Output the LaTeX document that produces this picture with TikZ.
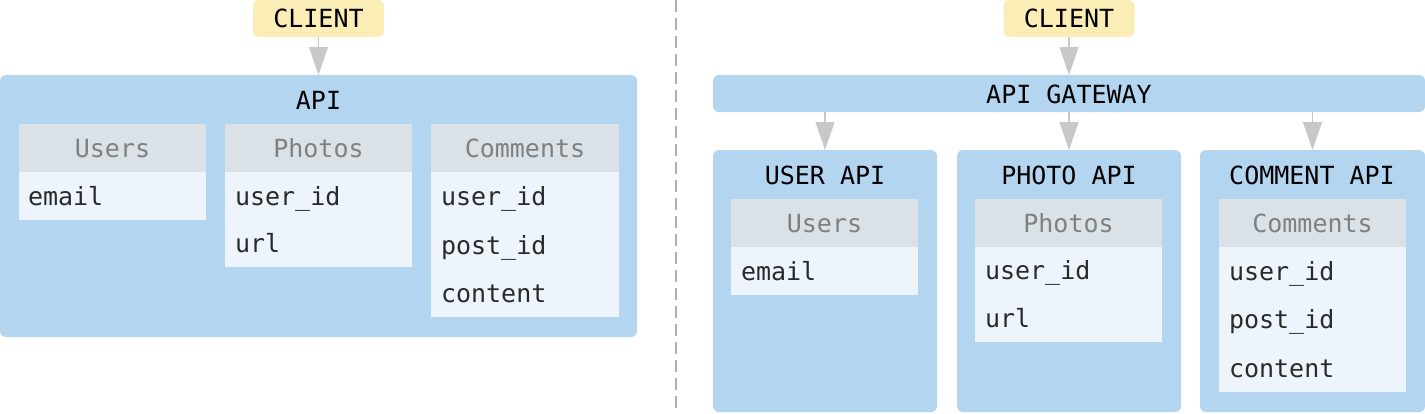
\documentclass[tikz,border=0pt]{standalone}
\usepackage{fontspec}
\setmonofont{DejaVu Sans Mono}
\usetikzlibrary{arrows.meta}

\definecolor{clientfill}{HTML}{FAEDB6}
\definecolor{apifill}{HTML}{B3D5EF}
\definecolor{headfill}{HTML}{DAE1E7}
\definecolor{rowfill}{HTML}{EDF4FB}
\definecolor{flowgrey}{HTML}{C8C8C8}
\definecolor{dividergrey}{HTML}{B0B0B0}
\definecolor{headtext}{HTML}{808080}
\definecolor{rowtext}{HTML}{2A2A2A}

\tikzset{
    every node/.style={font=\ttfamily\fontsize{25}{28}\selectfont, inner sep=0pt, outer sep=0pt, text height=18pt, text depth=0pt},
    clientbox/.style={fill=clientfill, rounded corners=6pt, minimum width=131pt, minimum height=37pt},
    apibox/.style={fill=apifill, rounded corners=6pt, anchor=north west, minimum height=262pt},
    title/.style={},
    headbox/.style={fill=headfill, anchor=north west, minimum width=187pt, minimum height=48pt, text=headtext},
    rowbox/.style={fill=rowfill, anchor=north west, minimum width=187pt},
    field/.style={anchor=west, text=rowtext},
    flow/.style={draw=flowgrey, line width=1.3pt, -{Triangle[width=19pt, length=28pt, fill=flowgrey]}}
}

\begin{document}
\begin{tikzpicture}[x=1pt, y=-1pt]
    \useasboundingbox (0,0) rectangle (1425,413);

    % monolith
    \node[clientbox] (clientL) at (318.5,18.5) {CLIENT};
    \node[apibox, minimum width=637pt] (apiL) at (0,75) {};
    \node[title] (apiLtitle) at (318.5,100) {API};
    \draw[flow] (clientL.south) -- (clientL.south |- apiL.north);

    \node[headbox] (usersL) at (19,124) {Users};
    \node[rowbox, minimum height=48pt] (usersLrows) at (19,172) {};
    \node[field] (usersLemail) at (28,196) {email};

    \node[headbox] (photosL) at (225,124) {Photos};
    \node[rowbox, minimum height=95pt] (photosLrows) at (225,172) {};
    \node[field] (photosLuser) at (235,196) {user\_id};
    \node[field] (photosLurl) at (235,243) {url};

    \node[headbox, minimum width=188pt] (commentsL) at (431,124) {Comments};
    \node[rowbox, minimum width=188pt, minimum height=145pt] (commentsLrows) at (431,172) {};
    \node[field] (commentsLuser) at (441,196) {user\_id};
    \node[field] (commentsLpost) at (441,245) {post\_id};
    \node[field] (commentsLcontent) at (441,293) {content};

    % divider
    \draw[dividergrey, line width=1.3pt, dash pattern=on 12pt off 6pt] (676,0) -- (676,413);

    % services
    \node[clientbox] (clientR) at (1069,18.5) {CLIENT};
    \node[fill=apifill, rounded corners=6pt, anchor=north west, minimum width=712pt, minimum height=37pt] (gateway) at (713,75) {};
    \node[title] (gatewaytitle) at (1069,94) {API GATEWAY};
    \draw[flow] (clientR.south) -- (clientR.south |- gateway.north);

    \node[apibox, minimum width=224pt] (userapi) at (713,150) {};
    \node[title] (userapititle) at (825,175) {USER API};
    \node[apibox, minimum width=224pt] (photoapi) at (957,150) {};
    \node[title] (photoapititle) at (1069,175) {PHOTO API};
    \node[apibox, minimum width=225pt] (commentapi) at (1200,150) {};
    \node[title] (commentapititle) at (1312,175) {COMMENT API};

    \draw[flow] (gateway.south -| userapi.north) -- (userapi.north);
    \draw[flow] (gateway.south -| photoapi.north) -- (photoapi.north);
    \draw[flow] (gateway.south -| commentapi.north) -- (commentapi.north);

    \node[headbox] (usersR) at (731,199) {Users};
    \node[rowbox, minimum height=48pt] (usersRrows) at (731,247) {};
    \node[field] (usersRemail) at (741,271) {email};

    \node[headbox] (photosR) at (975,199) {Photos};
    \node[rowbox, minimum height=95pt] (photosRrows) at (975,247) {};
    \node[field] (photosRuser) at (985,270) {user\_id};
    \node[field] (photosRurl) at (985,318) {url};

    \node[headbox] (commentsR) at (1219,199) {Comments};
    \node[rowbox, minimum height=145pt] (commentsRrows) at (1219,247) {};
    \node[field] (commentsRuser) at (1229,271) {user\_id};
    \node[field] (commentsRpost) at (1229,319) {post\_id};
    \node[field] (commentsRcontent) at (1229,368) {content};

\end{tikzpicture}
\end{document}
